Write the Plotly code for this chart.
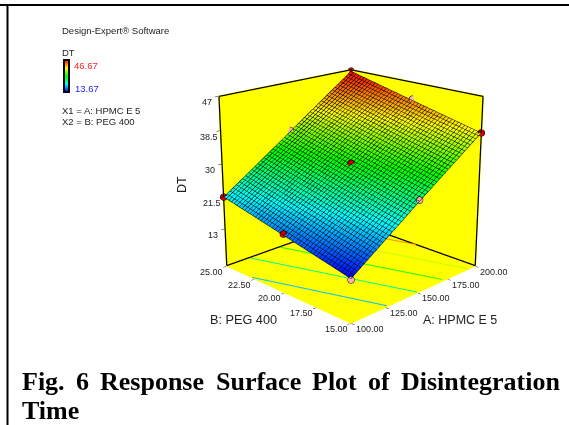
import numpy as np
import plotly.graph_objects as go

W, H = 569, 425
FIG_H = 771        # taller drawing so the camera can sit further back
TOP_CUT = 202      # part of the figure above the visible page

# Data
A_levels = [100.0, 150.0, 200.0]
B_levels = [15.0, 20.0, 25.0]
DT_surface = [            # rows follow B_levels, columns follow A_levels
    [13.67, 26.0, 38.0],
    [17.6, 30.0, 42.3],
    [21.5, 34.0, 46.67],
]
point_A = [200, 200, 100, 150, 100, 150, 200, 150, 100]
point_B = [25, 15, 25, 20, 20, 25, 20, 15, 15]
point_DT = [46.67, 38.0, 21.5, 30.3, 17.9, 34.3, 42.6, 26.3, 13.4]
point_color = ["#e00000"] * 5 + ["#ffb0b0"] * 4
contour_levels = [20.0, 25.5, 31.0, 36.5, 42.0]
A_ticks = [100, 125, 150, 175, 200]
B_ticks = [15, 17.5, 20, 22.5, 25]
DT_ticks = [13, 21.5, 30, 38.5, 47]
DT_floor = 3.0
DT_min, DT_max = 13.67, 46.67
A_mesh_step = 2.27
B_mesh_step = 0.227
caption_words = ["Fig.", "6", "Response", "Surface", "Plot", "of", "Disintegration"]
caption_x = [21, 75, 99, 215, 311, 367, 400]

colorscale = [[0, "#0000ff"], [0.25, "#00ffff"], [0.5, "#00ff00"], [0.75, "#ffff00"], [1, "#ff0000"]]
stops = [np.array([0, 0, 255]), np.array([0, 255, 255]), np.array([0, 255, 0]), np.array([255, 255, 0]), np.array([255, 0, 0])]


def py(y):
    return 1 - (y + TOP_CUT) / FIG_H


def level_color(v):
    t = (v - DT_min) / (DT_max - DT_min) * 4
    i = min(int(t), 3)
    c = stops[i] + (stops[i + 1] - stops[i]) * (t - i)
    return "rgb(%d,%d,%d)" % tuple(c)


fig = go.Figure()

dt = np.array(DT_surface)
for lv in contour_levels:
    As, Bs = [], []
    for j, a in enumerate(A_levels):
        slope = (dt[2, j] - dt[0, j]) / (B_levels[2] - B_levels[0])
        As.append(a)
        Bs.append(B_levels[0] + (lv - dt[0, j]) / slope)
    fine = np.linspace(100, 200, 201)
    fb = np.polyval(np.polyfit(As, Bs, 1), fine)
    keep = (fb >= 15) & (fb <= 25)
    fig.add_trace(go.Scatter3d(x=fine[keep], y=fb[keep], z=[DT_floor] * int(keep.sum()), mode="lines",
                               line=dict(color=level_color(lv), width=2), hoverinfo="skip", showlegend=False))

fig.add_trace(go.Surface(
    x=A_levels, y=B_levels, z=DT_surface, colorscale=colorscale, cmin=DT_min, cmax=DT_max,
    lighting=dict(ambient=1, diffuse=0, specular=0, roughness=1, fresnel=0),
    hoverinfo="skip",
    contours=dict(
        x=dict(show=True, start=100, end=200, size=A_mesh_step, color="#000000", width=1, highlight=False),
        y=dict(show=True, start=15, end=25, size=B_mesh_step, color="#000000", width=1, highlight=False),
        z=dict(highlight=False),
    ),
    colorbar=dict(x=63.5 / W, xanchor="left", y=py(59.5), yanchor="top", len=32, lenmode="pixels",
                  thickness=5, thicknessmode="pixels", outlinecolor="#000000", outlinewidth=2,
                  showticklabels=False, ticks="", xpad=0, ypad=0),
))

fig.add_trace(go.Scatter3d(x=point_A, y=point_B, z=point_DT, mode="markers",
                           marker=dict(size=4, color=point_color, line=dict(color="#000000", width=1)),
                           hoverinfo="skip", showlegend=False))

amin, amax, bmin, bmax = A_levels[0], A_levels[-1], B_levels[0], B_levels[-1]
frame = [
    ([amin, amax, amax], [bmax, bmax, bmin], [DT_ticks[-1]] * 3),
    ([amin, amax, amax], [bmax, bmax, bmin], [DT_floor] * 3),
    ([amin, amin], [bmax, bmax], [DT_floor, DT_ticks[-1]]),
    ([amax, amax], [bmin, bmin], [DT_floor, DT_ticks[-1]]),
]
for fx, fy, fz in frame:
    fig.add_trace(go.Scatter3d(x=fx, y=fy, z=fz, mode="lines", line=dict(color="#000000", width=2.5),
                               hoverinfo="skip", showlegend=False))


def ax(rng, vals):
    return dict(range=rng, tickvals=vals, showticklabels=False, showgrid=False, zeroline=False, showline=False,
                showspikes=False, showbackground=True, backgroundcolor="#ffff00", ticks="outside", ticklen=3,
                tickcolor="#000000", title=dict(text=""))


tickfont = dict(family="Liberation Sans, Arial", size=9, color="#222222")


def tick_note(x, y, z, text, dx, dy):
    return dict(x=x, y=y, z=z, text=text, showarrow=False, xanchor="center", yanchor="middle",
                xshift=dx, yshift=-dy, font=tickfont)


scene_notes = (
    [tick_note(a, bmin, DT_floor, "%.2f" % a, 19, 6) for a in A_ticks]
    + [tick_note(amin, b, DT_floor, "%.2f" % b, -15, 6) for b in B_ticks]
    + [tick_note(amin, bmax, v, str(v), -12, 6) for v in DT_ticks]
)

R = 5.1
E = np.radians(18.5)
fig.update_layout(
    width=W, height=FIG_H, margin=dict(l=0, r=0, t=0, b=0), paper_bgcolor="#ffffff", showlegend=False,
    scene=dict(
        domain=dict(x=[0.234, 1.0], y=[0.0, 1.0]),
        aspectmode="manual", aspectratio=dict(x=1, y=1, z=0.985),
        camera=dict(eye=dict(x=-R * np.cos(E) * 0.7071, y=-R * np.cos(E) * 0.7071, z=R * np.sin(E)),
                    center=dict(x=0, y=0, z=0), up=dict(x=0, y=0, z=1)),
        xaxis=ax([amin - 0.4, amax + 0.4], A_ticks),
        yaxis=ax([bmin - 0.04, bmax + 0.04], B_ticks),
        zaxis=ax([DT_floor - 0.15, DT_ticks[-1] + 0.2], DT_ticks),
        annotations=scene_notes,
    ),
)


def note(x, y, text, size=9.5, color="#222222", anchor="left", family="Liberation Sans, Arial", angle=0):
    fig.add_annotation(x=x / W, y=py(y), xref="paper", yref="paper", text=text, showarrow=False,
                       xanchor=anchor, yanchor="middle", textangle=angle, borderpad=0,
                       font=dict(size=size, color=color, family=family))


note(61, 30.5, "Design-Expert® Software")
note(61, 53, "DT")
note(73, 65, "46.67", color="#ff2020")
note(74, 88, "13.67", color="#2020ff")
note(61, 110, "X1 = A: HPMC E 5")
note(61, 121, "X2 = B: PEG 400")
note(182, 185, "DT", size=12.5, angle=-90, anchor="center")
note(243, 320, "B: PEG 400", size=12.7, anchor="center")
note(460, 320, "A: HPMC E 5", size=12.5, anchor="center")
serif = "Liberation Serif, Times New Roman"
for word, wx in zip(caption_words, caption_x):
    note(wx, 381, "<b>%s</b>" % word, size=26, color="#000000", family=serif)
note(21, 410, "<b>Time</b>", size=26, color="#000000", family=serif)

fig.add_shape(type="line", xref="paper", yref="paper", x0=0, x1=1, y0=py(5), y1=py(5), line=dict(color="#000000", width=2))
fig.add_shape(type="line", xref="paper", yref="paper", x0=7.5 / W, x1=7.5 / W, y0=py(5), y1=py(H), line=dict(color="#000000", width=2))

fig.write_html("out.html", config=dict(displayModeBar=False),
               post_script="document.body.style.margin='0';document.documentElement.style.overflow='hidden';document.body.style.overflow='hidden';"
                           "document.querySelector('.plotly-graph-div').style.marginTop='-%dpx';" % TOP_CUT)
